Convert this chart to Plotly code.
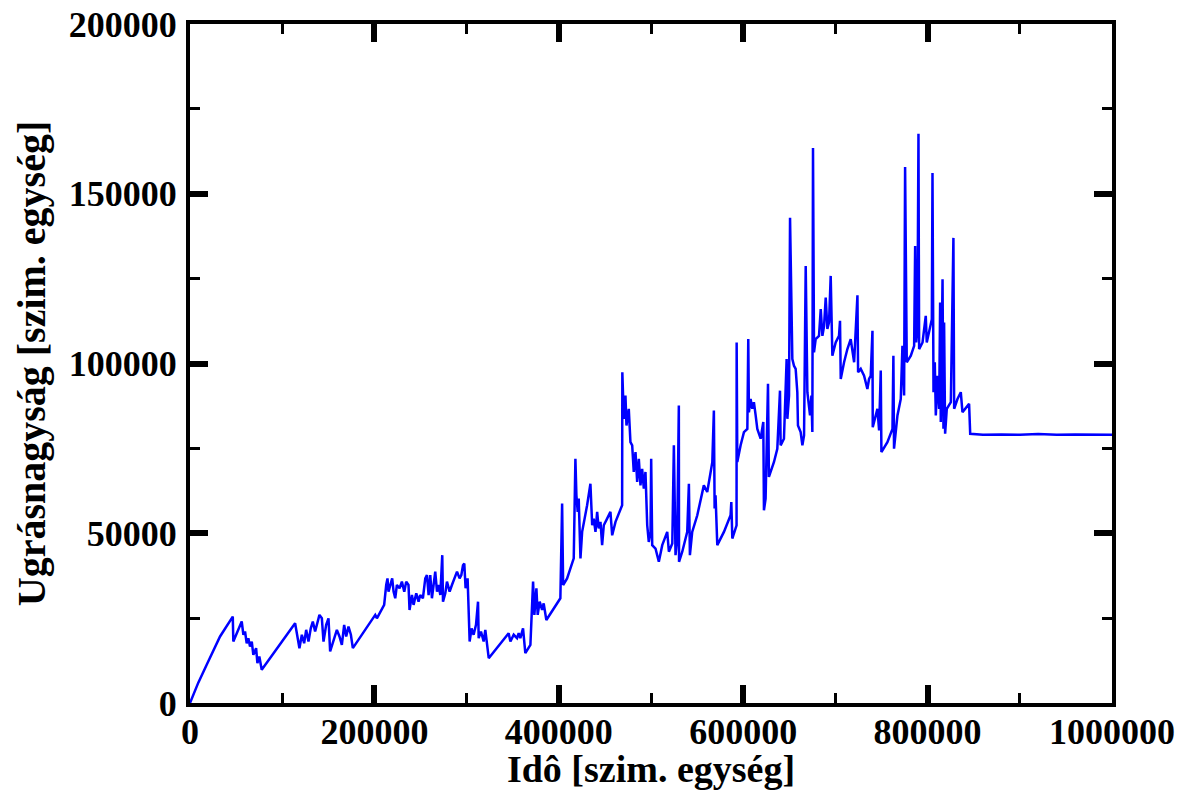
import plotly.graph_objects as go

# Idő [szim. egység]
ido = [
    0, 9000, 18100, 32600, 46400, 47000, 56100, 57900, 59700, 61500, 63300, 65100, 67000, 68700,
    71700, 73100, 75200, 77800, 114000, 116500, 118700, 121300, 123800, 126000, 128500, 131000,
    133200, 135700, 137500, 140400, 143000, 144800, 147700, 150200, 152000, 155600, 159300,
    162100, 164700, 167200, 169400, 171900, 174500, 176600, 200900, 202700, 206300, 210600,
    212800, 214200, 215300, 217900, 219300, 220800, 222600, 224400, 227300, 229800, 232400,
    234500, 237000, 238100, 240700, 242500, 245400, 247900, 249700, 252600, 255200, 257000,
    258800, 260600, 262400, 264200, 266000, 267900, 269600, 271500, 273600, 274400, 276900,
    278700, 281600, 284100, 286600, 289600, 292400, 294300, 296100, 297500, 298900, 301100,
    303300, 305400, 307600, 310200, 312400, 313100, 315600, 318500, 320300, 322100, 324000,
    345600, 347500, 351100, 354700, 356500, 358300, 361200, 363700, 369200, 372100, 373500,
    375700, 377100, 379300, 381900, 383600, 386500, 401700, 403600, 404700, 409000, 416200,
    418000, 419100, 420500, 421600, 423500, 425300, 430700, 434300, 436200, 437900, 439800,
    441600, 443300, 445200, 447000, 448800, 452400, 456000, 457900, 461500, 468700, 468900,
    470500, 472300, 473400, 475900, 477700, 479600, 481300, 483200, 485000, 486800, 488600,
    490400, 492200, 494000, 495900, 497600, 499500, 500200, 501300, 504900, 506700, 508500,
    512200, 517600, 519400, 523100, 524800, 526600, 528400, 530200, 530400, 533900, 539300,
    541100, 542200, 544700, 550200, 557300, 561000, 564600, 566500, 568200, 569000, 570000,
    571900, 579100, 586300, 587100, 588200, 592800, 592900, 593600, 597200, 600800, 604500,
    605500, 606200, 608000, 609900, 611600, 613500, 615300, 618900, 621800, 622500, 624300,
    626900, 627900, 633400, 637000, 639900, 640600, 644200, 647100, 647900, 649700, 650800,
    653300, 655100, 656900, 658700, 659400, 662300, 664200, 666000, 667800, 669600, 672500,
    674000, 675000, 675700, 676800, 678600, 682200, 684100, 685900, 687700, 689500, 691300,
    693100, 694900, 696700, 700300, 703900, 705000, 705800, 709400, 713000, 716600, 718500,
    720300, 723900, 724600, 727500, 731100, 734700, 736500, 738300, 740200, 740500, 745600,
    747400, 749200, 749900, 756400, 761900, 762900, 763600, 767300, 770900, 772700, 774500,
    775600, 777400, 781800, 785400, 786500, 787600, 789000, 790100, 790800, 794500, 798000,
    799100, 802700, 804600, 805300, 806400, 807800, 808900, 810700, 812500, 813600, 814300,
    816200, 817200, 817900, 819000, 820800, 825200, 828000, 828800, 832400, 836000, 837800,
    845000, 846200, 860000, 880000, 900000, 920000, 940000, 960000, 980000, 1000000,
]

# Ugrásnagyság [szim. egység]
ugras = [
    0, 6000, 11250, 19600, 25450, 18100, 24000, 20100, 21050, 17600, 19100, 16650, 18100, 14200,
    16150, 11750, 13700, 9800, 23500, 20100, 16150, 20100, 17600, 21550, 18100, 22000,
    24000, 21050, 23000, 25950, 24950, 18100, 23000, 24950, 15200, 18100, 21550,
    19600, 17150, 23000, 19600, 22500, 20100, 16150, 25950, 24950, 26900, 28900,
    34750, 36700, 32800, 35750, 36700, 32800, 30850, 34750, 33800, 35750, 32800,
    35750, 34750, 27400, 31800, 28900, 32300, 29850, 31800, 30850, 36700, 37700,
    31800, 37700, 30850, 34750, 38700, 32800, 34750, 31800, 43550, 29850, 32300,
    35750, 32800, 34750, 36700, 38700, 36700, 37700, 40600, 41100, 33800, 36700,
    18100, 22000, 20100, 23000, 29850, 19100, 21050, 18100, 21550, 18100, 13200,
    20550, 18100, 20100, 19100, 20550, 19100, 22000, 14700, 17150, 35750, 25950,
    33800, 25950, 29850, 27400, 29350, 24450, 30850, 58750, 34750, 36700, 42600,
    71950, 61200, 56300, 60200, 42600, 50400, 58250, 64600, 52350, 54300, 50400,
    56300, 51400, 53350, 46500, 52350, 54300, 56300, 49400, 53350, 58250, 97400,
    83700, 90550, 81750, 86650, 76850, 75900, 68050, 73900, 65100, 71950, 64100,
    69000, 63150, 68050, 52350, 47450, 50400, 71950, 46500, 45500, 43550, 41600,
    46500, 50400, 44550, 47000, 75900, 43550, 48450, 87600, 41600, 44550, 50400,
    64600, 43550, 50400, 55300, 64100, 62150, 68050, 70950, 86150, 57300, 61200,
    46500, 50400, 55300, 59200, 48450, 52350, 106200, 71000, 75900, 79800, 80750,
    107200, 85650, 89550, 86650, 88600, 84700, 80750, 77850, 82750, 56750, 60200,
    94000, 66600, 71000, 74900, 92000, 75900, 77850, 101300, 83700, 90550, 142900,
    101300, 99350, 98400, 91550, 81750, 79800, 75900, 78800, 128700, 91550, 84700,
    90550, 79800, 163500, 103300, 107200, 108150, 116000, 108150, 111050, 119450, 110150,
    112100, 125800, 102300, 106200, 108150, 112550, 95450, 100350, 104250, 107200, 103300,
    100350, 120100, 97400, 98400, 96400, 92500, 95450, 96400, 109650, 81250, 86650,
    80300, 97900, 73900, 76850, 80750, 102300, 74900, 84700, 89550, 105200, 90550,
    157900, 100350, 102300, 105200, 134600, 106200, 111050, 167700, 104250, 106200, 114050,
    106200, 111050, 113050, 156100, 91550, 100350, 84700, 96400, 86650, 117950, 82750,
    124800, 80750, 112100, 79300, 86650, 88600, 137000, 86650, 89550, 91550, 85650,
    88100, 79300, 79000, 79100, 79000, 79200, 79000, 79100, 79000, 79000,
]

x_ticks = [0, 200000, 400000, 600000, 800000, 1000000]
y_ticks = [0, 50000, 100000, 150000, 200000]

FONT = "Liberation Serif"

fig = go.Figure()
fig.add_trace(go.Scatter(
    x=ido, y=ugras, mode="lines",
    line=dict(color="#0000ff", width=2.5),
    showlegend=False, hoverinfo="skip",
))

axis_common = dict(
    showgrid=False, zeroline=False,
    showline=True, linecolor="black", linewidth=4, mirror="allticks",
    ticks="inside", ticklen=18, tickwidth=6, tickcolor="black",
    tickfont=dict(family=FONT, size=36, color="black", weight="bold"),
    ticklabeloverflow="allow",
)

fig.update_xaxes(
    **axis_common,
    range=[0, 1000000],
    tickvals=x_ticks, ticktext=[str(v) for v in x_ticks],
    minor=dict(dtick=100000, ticks="inside", ticklen=10, tickwidth=2.5, tickcolor="black", showgrid=False),
    ticklabelstandoff=-6,
    title=dict(text="Idô [szim. egység]", font=dict(family=FONT, size=38, color="black", weight="bold"), standoff=6),
)
fig.update_yaxes(
    **axis_common,
    range=[0, 200000],
    tickvals=y_ticks, ticktext=[str(v) for v in y_ticks],
    minor=dict(dtick=25000, ticks="inside", ticklen=10, tickwidth=2.5, tickcolor="black", showgrid=False),
    ticklabelstandoff=2,
    title=dict(text="Ugrásnagyság [szim. egység]", font=dict(family=FONT, size=40, color="black", weight="bold"), standoff=12),
)

# the page adds an 8px body margin, so the figure is sized to fit inside the window
fig.update_layout(
    width=1181, height=782,
    margin=dict(l=182, r=77, t=16, b=87, autoexpand=False),
    paper_bgcolor="white", plot_bgcolor="white",
)

fig.write_html("out.html")
